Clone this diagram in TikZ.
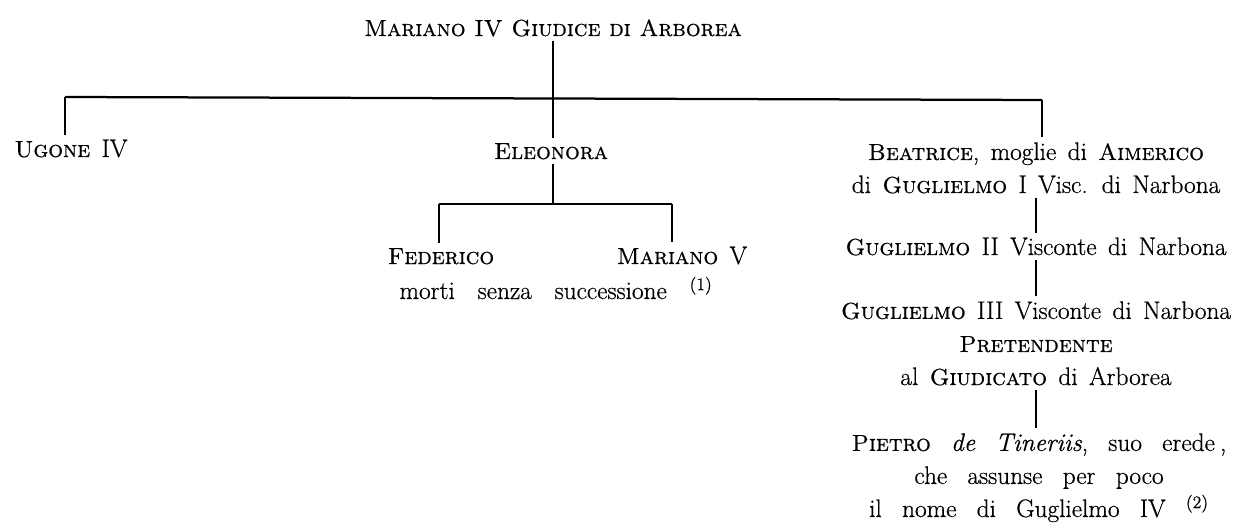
\documentclass[tikz,border=0pt]{standalone}
\usepackage{fontspec}
\setmainfont{Latin Modern Roman}[SmallCapsFont={Latin Modern Roman Caps}, FakeBold=0.6]
\usepackage{tikz}
\usetikzlibrary{calc}

% names in small caps, a little smaller than the running text
\newcommand{\gname}[1]{{\fontsize{16.5}{23.5}\selectfont\textsc{#1}}}

\begin{document}
\begin{tikzpicture}
   [
      x=0.025cm, y=-0.025cm, % one unit = one pixel of the scan, y downwards
      person/.style={anchor=base, align=center, inner sep=3.3pt,
         font={\fontsize{18}{23.5}\selectfont\spaceskip 0.45em\relax}},
      title/.style={anchor=base, inner sep=3.3pt, font={\fontsize{18}{23.5}\selectfont}},
      wide person/.style={person, font={\fontsize{18}{23.5}\selectfont\spaceskip 0.8em\relax}},
      note/.style={anchor=base, inner sep=3.3pt, font={\fontsize{18}{23.5}\selectfont\spaceskip 0.9em\relax}},
      link/.style={line width=1pt, black},
      bar/.style={line width=1.6pt, black},
      sub bar/.style={line width=1.3pt, black}
   ]

   \useasboundingbox (0,0) rectangle (1240,524);

   % =======================================================
   % Top: Mariano IV and his three children
   % =======================================================

   \node[title] (mariano_iv) at (553,36) {\gname{Mariano IV Giudice di Arborea}};

   \node[person] (ugone_iv) at (71,157) {\gname{Ugone} IV};
   \node[person] (eleonora) at (551,159) {\gname{Eleonora}};
   % base of a multi-line node = last line
   \node[person] (beatrice) at (1036,193)
      {\gname{Beatrice}, moglie di \gname{Aimerico}\\di \gname{Guglielmo} I Visc. di Narbona};

   % Bus line under Mariano IV
   \coordinate (bus_left) at (65,97);
   \coordinate (bus_mid) at (553,98);
   \coordinate (bus_right) at (1042,100);

   \draw[bar] (bus_left) -- (bus_right);
   \draw[link] (mariano_iv.south -| bus_mid) -- (bus_mid);
   \draw[link] (bus_left) -- (bus_left |- ugone_iv.north);
   \draw[link] (bus_mid) -- (bus_mid |- eleonora.north);
   \draw[link] (bus_right) -- (bus_right |- beatrice.north);

   % =======================================================
   % Middle: children of Eleonora
   % =======================================================

   \node[person] (federico) at (441,264) {\gname{Federico}};
   \node[person] (mariano_v) at (682,264) {\gname{Mariano} V};
   \node[note] (note_one) at (556,299) {morti senza successione \textsuperscript{(1)}};

   \coordinate (sub_left) at (439,204);
   \coordinate (sub_mid) at (553,204);
   \coordinate (sub_right) at (672,204);

   \draw[link] (eleonora.south -| sub_mid) -- (sub_mid);
   \draw[sub bar] (sub_left) -- (sub_right);
   \draw[link] (sub_left) -- (sub_left |- federico.north);
   \draw[link] (sub_right) -- (sub_right |- mariano_v.north);

   % =======================================================
   % Right: line of the Viscounts of Narbona
   % =======================================================

   \node[person] (guglielmo_ii) at (1036,255) {\gname{Guglielmo} II Visconte di Narbona};
   \node[person] (guglielmo_iii) at (1036,385)
      {\gname{Guglielmo} III Visconte di Narbona\\\gname{Pretendente}\\al \gname{Giudicato} di Arborea};
   \node[wide person] (pietro) at (1039,517)
      {\gname{Pietro} \textit{de Tineriis}, suo erede\hspace{0.2em},\\che assunse per poco\\il nome di Guglielmo IV \textsuperscript{(2)}};

   \draw[link] (beatrice) -- (guglielmo_ii);
   \draw[link] (guglielmo_ii) -- (guglielmo_iii);
   \draw[link] (guglielmo_iii.south) -- (guglielmo_iii.south |- pietro.north);

\end{tikzpicture}
\end{document}
